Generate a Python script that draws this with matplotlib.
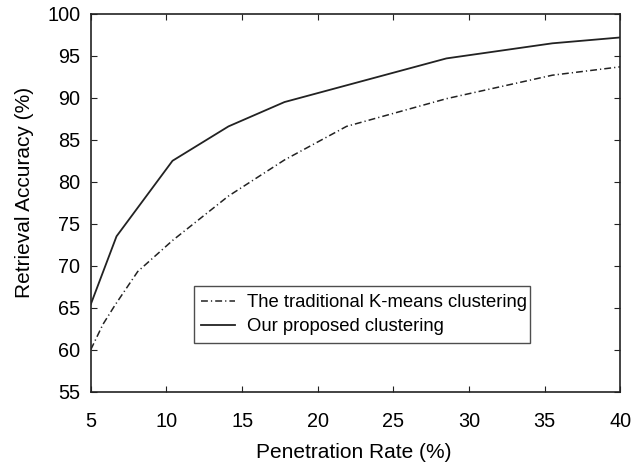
import matplotlib
matplotlib.use("Agg")
import matplotlib.pyplot as plt

plt.rcParams["font.family"] = ["Liberation Sans", "DejaVu Sans"]

# penetration rate (%) and retrieval accuracy (%)
kmeans_x = [5, 5.8, 6.6, 8.1, 10.4, 14.1, 17.8, 21.9, 28.5, 35.5, 40]
kmeans_y = [60.0, 63.0, 65.3, 69.3, 73.0, 78.3, 82.6, 86.6, 89.9, 92.7, 93.7]

proposed_x = [5, 6.7, 10.4, 14.1, 17.8, 28.5, 35.5, 40]
proposed_y = [65.4, 73.5, 82.5, 86.6, 89.5, 94.7, 96.5, 97.2]

labels = ["The traditional K-means clustering", "Our proposed clustering"]

fig = plt.figure(figsize=(6.35, 4.65), dpi=100)
ax = fig.add_axes([0.143, 0.158, 0.834, 0.812])

line_color = "#222222"
ax.plot(kmeans_x, kmeans_y, color=line_color, lw=1.1,
        linestyle=(0, (4.5, 2, 0.8, 2)), label=labels[0])
ax.plot(proposed_x, proposed_y, color=line_color, lw=1.3, label=labels[1])

ax.set_xlim(5, 40)
ax.set_ylim(55, 100)
ax.set_xticks(range(5, 41, 5))
ax.set_yticks(range(55, 101, 5))
ax.tick_params(direction="in", top=True, right=True, length=4,
               labelsize=14.3, color=line_color)
ax.tick_params(axis="x", pad=14.5)
ax.tick_params(axis="y", pad=7.5)
for s in ax.spines.values():
    s.set_linewidth(1.2)
    s.set_color(line_color)

ax.set_xlabel("Penetration Rate (%)", fontsize=15)
ax.set_ylabel("Retrieval Accuracy (%)", fontsize=15)
ax.xaxis.set_label_coords(0.496, -0.135)
ax.yaxis.set_label_coords(-0.108, 0.527)

leg = ax.legend(loc="lower left", bbox_to_anchor=(0.194, 0.128, 0.635, 0.152),
                mode="expand", borderaxespad=0, fancybox=False,
                edgecolor=line_color, fontsize=13.3, handlelength=1.84,
                handletextpad=0.63, borderpad=0.42, labelspacing=0.4)
leg.get_frame().set_linewidth(1.0)

fig.savefig("out.png", dpi=100)
